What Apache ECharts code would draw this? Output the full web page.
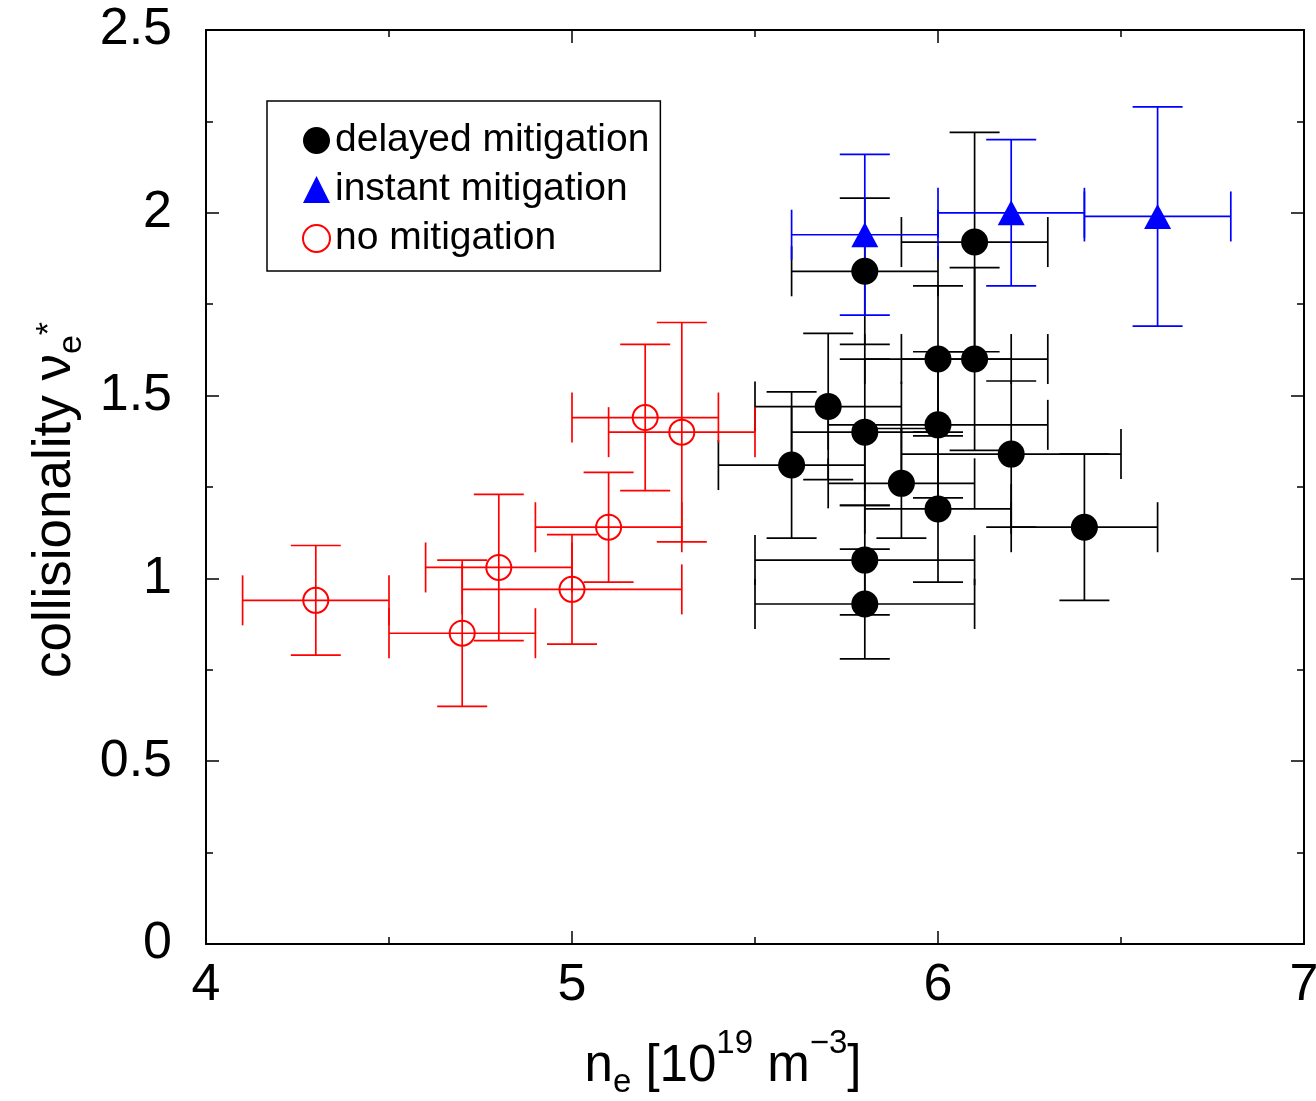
<!DOCTYPE html>
<html><head><meta charset="utf-8">
<script src="https://cdn.jsdelivr.net/npm/echarts/dist/echarts.min.js"></script>
<style>html,body{margin:0;padding:0;background:#fff}#c{width:1316px;height:1101px}</style>
</head><body><div id="c"></div>
<script>
// ---- data ----
const delayedX    = [5.8, 6.1, 6.0, 6.1, 5.7, 5.8, 6.0, 5.6, 6.2, 5.9, 6.0, 6.4, 5.8, 5.8];
const delayedY    = [1.84, 1.92, 1.60, 1.60, 1.47, 1.40, 1.42, 1.31, 1.34, 1.26, 1.19, 1.14, 1.05, 0.93];
const delayedXErr = [0.2, 0.2, 0.2, 0.2, 0.2, 0.2, 0.3, 0.2, 0.3, 0.2, 0.2, 0.2, 0.3, 0.3];
const delayedYErr = [0.2, 0.3, 0.2, 0.25, 0.2, 0.2, 0.2, 0.2, 0.2, 0.15, 0.2, 0.2, 0.15, 0.15];

const instantX    = [5.8, 6.2, 6.6];
const instantY    = [1.94, 2.00, 1.99];
const instantXErr = [0.2, 0.2, 0.2];
const instantYErr = [0.22, 0.2, 0.3];

const noneX    = [4.3, 4.7, 4.8, 5.0, 5.1, 5.2, 5.3];
const noneY    = [0.94, 0.85, 1.03, 0.97, 1.14, 1.44, 1.40];
const noneXErr = [0.2, 0.2, 0.2, 0.3, 0.2, 0.2, 0.2];
const noneYErr = [0.15, 0.2, 0.2, 0.15, 0.15, 0.2, 0.3];

const seriesNames = ['delayed mitigation', 'instant mitigation', 'no mitigation'];
const xRange = [4, 7];
const yRange = [0, 2.5];

// ---- chart ----
const FONT = 'Liberation Sans, Arial, Helvetica, sans-serif';
const chart = echarts.init(document.getElementById('c'), null, {renderer: 'canvas'});

function pts(xs, ys) { return xs.map((x, i) => [x, ys[i]]); }
function errs(xs, ys, ex, ey) { return xs.map((x, i) => [x, ys[i], ex[i], ey[i]]); }

function errorBars(color) {
  return function (params, api) {
    const x = api.value(0), y = api.value(1), ex = api.value(2), ey = api.value(3);
    const l = api.coord([x - ex, y]), r = api.coord([x + ex, y]);
    const t = api.coord([x, y + ey]), b = api.coord([x, y - ey]);
    const cap = 25;
    const ln = (x1, y1, x2, y2) => ({type: 'line', shape: {x1, y1, x2, y2}, style: {stroke: color, lineWidth: 1.7}});
    return {type: 'group', children: [
      ln(l[0], l[1], r[0], r[1]),
      ln(l[0], l[1] - cap, l[0], l[1] + cap),
      ln(r[0], r[1] - cap, r[0], r[1] + cap),
      ln(t[0], t[1], b[0], b[1]),
      ln(t[0] - cap, t[1], t[0] + cap, t[1]),
      ln(b[0] - cap, b[1], b[0] + cap, b[1])
    ]};
  };
}

const axisCommon = {
  type: 'value',
  axisLine: {show: true, onZero: false, lineStyle: {color: '#000', width: 2}},
  axisTick: {show: true, inside: true, length: 13, lineStyle: {color: '#000', width: 1.5}},
  minorTick: {show: true, splitNumber: 2, length: 7, lineStyle: {color: '#000', width: 1.5}},
  splitLine: {show: false},
  minorSplitLine: {show: false}
};

const txt = (size, extra) => Object.assign({fontSize: size, fontFamily: FONT, color: '#000', verticalAlign: 'middle'}, extra || {});

const option = {
  backgroundColor: '#fff',
  animation: false,
  grid: {left: 206, right: 12, top: 30, bottom: 157, containLabel: false, outerBoundsMode: 'none'},
  legend: {
    left: 267, top: 101, orient: 'vertical', align: 'left',
    borderColor: '#000', borderWidth: 1.5, padding: [20, 11, 13, 35],
    itemWidth: 27, itemHeight: 27, itemGap: 10, selectedMode: false,
    textStyle: {fontSize: 39, color: '#000', fontFamily: FONT},
    data: [
      {name: seriesNames[0], icon: 'circle', itemStyle: {color: '#000'}},
      {name: seriesNames[1], icon: 'triangle', itemStyle: {color: '#0000ff'}},
      {name: seriesNames[2], icon: 'circle', itemStyle: {color: 'rgba(0,0,0,0)', borderColor: '#ff0000', borderWidth: 2}}
    ]
  },
  xAxis: [
    Object.assign({}, axisCommon, {
      min: xRange[0], max: xRange[1], interval: 1, position: 'bottom',
      axisLabel: {fontSize: 52, color: '#000', fontFamily: FONT, margin: 16},
      name: '{a|n}{b|e}{a| [10}{c|19}{a| m}{c|\u22123}{a|]}',
      nameLocation: 'middle', nameGap: 83,
      nameTextStyle: {fontFamily: FONT, color: '#000', padding: [0, 64, 0, 0], rich: {
        a: txt(51, {lineHeight: 58}),
        b: txt(33, {padding: [32, 0, 0, 0]}),
        c: txt(33, {padding: [0, 0, 46, 0]})
      }}
    }),
    Object.assign({}, axisCommon, {
      min: xRange[0], max: xRange[1], interval: 1, position: 'top', axisLabel: {show: false}
    })
  ],
  yAxis: [
    Object.assign({}, axisCommon, {
      min: yRange[0], max: yRange[1], interval: 0.5, position: 'left',
      axisLabel: {fontSize: 52, color: '#000', fontFamily: FONT, margin: 34},
      name: '{a|collisionality \u03bd}{b|e}{c|*}',
      nameLocation: 'middle', nameGap: 112, nameRotate: 90,
      nameTextStyle: {fontFamily: FONT, color: '#000', padding: [0, 26, 0, 0], rich: {
        a: txt(53, {lineHeight: 60}),
        b: txt(34, {padding: [32, 0, 0, 0]}),
        c: txt(34, {padding: [0, 0, 12, 0]})
      }}
    }),
    Object.assign({}, axisCommon, {
      min: yRange[0], max: yRange[1], interval: 0.5, position: 'right', axisLabel: {show: false}
    })
  ],
  series: [
    {type: 'custom', name: 'delayed bars', renderItem: errorBars('#000000'), data: errs(delayedX, delayedY, delayedXErr, delayedYErr), encode: {x: 0, y: 1}, z: 2, silent: true},
    {type: 'custom', name: 'instant bars', renderItem: errorBars('#0000ff'), data: errs(instantX, instantY, instantXErr, instantYErr), encode: {x: 0, y: 1}, z: 2, silent: true},
    {type: 'custom', name: 'none bars', renderItem: errorBars('#ff0000'), data: errs(noneX, noneY, noneXErr, noneYErr), encode: {x: 0, y: 1}, z: 2, silent: true},
    {type: 'scatter', name: seriesNames[0], data: pts(delayedX, delayedY), symbol: 'circle', symbolSize: 27, itemStyle: {color: '#000', opacity: 1}, z: 3},
    {type: 'scatter', name: seriesNames[1], data: pts(instantX, instantY), symbol: 'triangle', symbolSize: [27, 25], itemStyle: {color: '#0000ff', opacity: 1}, z: 3},
    {type: 'scatter', name: seriesNames[2], data: pts(noneX, noneY), symbol: 'circle', symbolSize: 25, itemStyle: {color: 'rgba(0,0,0,0)', borderColor: '#ff0000', borderWidth: 2, opacity: 1}, z: 3}
  ]
};
chart.setOption(option);
</script>
</body></html>
